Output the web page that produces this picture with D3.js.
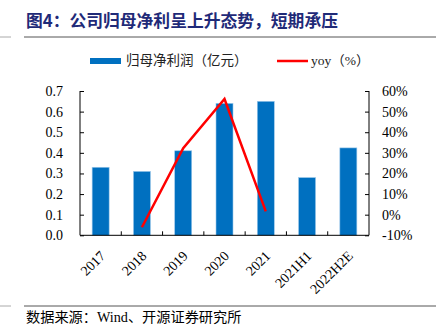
<!DOCTYPE html>
<html><head><meta charset="utf-8">
<script src="https://cdn.jsdelivr.net/npm/d3@7/dist/d3.min.js"></script>
<style>
html,body{margin:0;padding:0;background:#fff;}
svg{display:block;}
</style></head>
<body>
<script>
const categories = ["2017","2018","2019","2020","2021","2021H1","2022H2E"];
const profit = [0.33,0.31,0.41,0.64,0.65,0.28,0.424];
const yoyCats = ["2018","2019","2020","2021"];
const yoy = [-6.1,32.3,56.1,1.6];
const leftTicks = [0,0.1,0.2,0.3,0.4,0.5,0.6,0.7];
const rightTicks = [-10,0,10,20,30,40,50,60];
const title = "图4：公司归母净利呈上升态势，短期承压";
const source = "数据来源：Wind、开源证券研究所";
const legendBar = "归母净利润（亿元）";
const legendLine = "yoy（%）";

const W=447,H=326;
const serif = "'Liberation Serif','Times New Roman',serif";
const cjk = "'Liberation Serif','Noto Sans CJK SC',serif";
const svg=d3.select("body").append("svg").attr("width",W).attr("height",H);

const m={l:80,r:369,t:91,b:235.3};
const x=d3.scaleBand().domain(categories).range([m.l,m.r]).paddingInner(0).paddingOuter(0);
const yL=d3.scaleLinear().domain([0,0.7]).range([m.b,m.t]);
const yR=d3.scaleLinear().domain([-10,60]).range([m.b,m.t]);

// title
svg.append("text").attr("x",26).attr("y",27).text(title)
  .attr("font-family","'Noto Sans CJK SC',sans-serif").attr("font-weight","bold")
  .attr("font-size",16.8).attr("fill","#1f2a78");
// rules
svg.append("line").attr("x1",24).attr("x2",436).attr("y1",37).attr("y2",37).attr("stroke","#555").attr("stroke-width",1);
svg.append("line").attr("x1",0).attr("x2",11).attr("y1",37).attr("y2",37).attr("stroke","#aaa").attr("stroke-width",1);
svg.append("line").attr("x1",24).attr("x2",436).attr("y1",306).attr("y2",306).attr("stroke","#555").attr("stroke-width",1);
svg.append("line").attr("x1",0).attr("x2",11).attr("y1",306).attr("y2",306).attr("stroke","#aaa").attr("stroke-width",1);

// legend
svg.append("rect").attr("x",90).attr("y",58).attr("width",31).attr("height",6).attr("fill","#0070C0");
svg.append("text").attr("x",126).attr("y",65).text(legendBar).attr("font-family",cjk).attr("font-size",13.5).attr("fill","#222");
svg.append("line").attr("x1",277).attr("x2",308).attr("y1",61).attr("y2",61).attr("stroke","#ff0000").attr("stroke-width",2.5);
svg.append("text").attr("x",311).attr("y",65).text(legendLine).attr("font-family",cjk).attr("font-size",13.5).attr("fill","#222");

// bars
const bw=17;
svg.append("g").selectAll("rect").data(categories).join("rect")
  .attr("x",d=>x(d)+x.bandwidth()/2-bw/2)
  .attr("y",(d,i)=>yL(profit[i]))
  .attr("width",bw)
  .attr("height",(d,i)=>yL(0)-yL(profit[i]))
  .attr("fill","#0070C0").attr("stroke","#9cc8ea").attr("stroke-width",0.6);

// axes
const axL=svg.append("g").attr("transform",`translate(${m.l},0)`)
  .call(d3.axisLeft(yL).tickValues(leftTicks).tickFormat(d3.format(".1f")).tickSizeInner(-4).tickSizeOuter(0).tickPadding(17));
const axR=svg.append("g").attr("transform",`translate(${m.r},0)`)
  .call(d3.axisRight(yR).tickValues(rightTicks).tickFormat(d=>d+"%").tickSizeInner(-4).tickSizeOuter(0).tickPadding(13));
const axB=svg.append("g").attr("transform",`translate(0,${m.b})`)
  .call(d3.axisBottom(x).tickSize(0).tickFormat(""));
// boundary ticks on x axis (inward)
svg.append("g").selectAll("line").data(categories.slice(1)).join("line")
  .attr("x1",d=>x(d)).attr("x2",d=>x(d)).attr("y1",m.b).attr("y2",m.b-4).attr("stroke","#000");
[axL,axR,axB].forEach(a=>{
  a.selectAll("path,line").attr("stroke","#000").attr("stroke-width",1);
  a.selectAll("text").attr("font-family",serif).attr("font-size",14).attr("fill","#000");
});
axR.select("path.domain").attr("d",`M0,${m.t}V${m.b}`);
axL.select("path.domain").attr("d",`M0,${m.t}V${m.b}`);
axB.select("path.domain").attr("d",`M${m.l},0H${m.r}`);

// x labels
svg.append("g").selectAll("text").data(categories).join("text")
  .attr("transform",d=>`translate(${x(d)+x.bandwidth()/2+2},${m.b+18}) rotate(-45)`)
  .attr("text-anchor","end").attr("dy","0.35em")
  .attr("font-family",serif).attr("font-size",14).attr("fill","#000")
  .text(d=>d);

// yoy line
const line=d3.line().x((d,i)=>x(yoyCats[i])+x.bandwidth()/2).y(d=>yR(d));
svg.append("path").datum(yoy).attr("d",line).attr("fill","none")
  .attr("stroke","#ff0000").attr("stroke-width",2.5).attr("stroke-linejoin","miter");

// source
svg.append("text").attr("x",26).attr("y",322).text(source)
  .attr("font-family",cjk).attr("font-size",14.2).attr("fill","#000");
</script>
</body></html>
